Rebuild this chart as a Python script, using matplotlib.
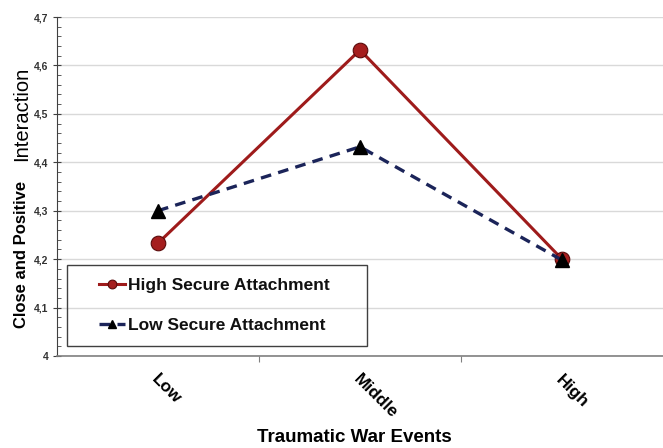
import matplotlib
matplotlib.use("Agg")
import matplotlib.pyplot as plt
from matplotlib.ticker import MultipleLocator, FuncFormatter
from matplotlib.patches import Rectangle

categories = ["Low", "Middle", "High"]
high_secure = [4.233, 4.632, 4.200]
low_secure = [4.300, 4.432, 4.198]
series_labels = ["High Secure Attachment", "Low Secure Attachment"]

plt.rcParams['font.family'] = ['Liberation Sans', 'DejaVu Sans']

W, H = 663, 448
fig = plt.figure(figsize=(W/100, H/100), dpi=100)
ax = fig.add_axes([57/W, (H-356)/H, 606/W, 339/H])

x = list(range(len(categories)))
ax.plot(x, high_secure, color='#9E1B1B', lw=2.2, marker='o', markersize=10.5,
        markerfacecolor='#A51E1E', markeredgecolor='#5A0A0A', markeredgewidth=0.8,
        label=series_labels[0], zorder=3)
ax.plot(x, low_secure, color='#1B2459', lw=2.4, ls=(0, (3.2, 2.2)), marker='^', markersize=10,
        markerfacecolor='black', markeredgecolor='black',
        label=series_labels[1], zorder=4)

ax.set_xlim(-0.5, 2.5)
ax.set_ylim(4.0, 4.7)
ax.yaxis.set_major_locator(MultipleLocator(0.1))
ax.yaxis.set_minor_locator(MultipleLocator(0.02))

def fmt(v, pos):
    s = f"{v:.1f}".replace('.', ',')
    if s.endswith(',0'):
        s = s[:-2]
    return s
ax.yaxis.set_major_formatter(FuncFormatter(fmt))
ax.grid(axis='y', which='major', color='#D9D9D9', lw=1)
ax.set_axisbelow(True)

for s in ['top', 'right']:
    ax.spines[s].set_visible(False)
ax.spines['left'].set_color('#404040')
ax.spines['bottom'].set_color('#808080')
ax.spines['bottom'].set_linewidth(1.2)

ax.tick_params(axis='y', which='major', direction='inout', length=6, color='#404040',
               labelsize=7.5, pad=3)
ax.tick_params(axis='y', which='minor', direction='in', length=3, color='#404040')
for lab in ax.get_yticklabels():
    lab.set_fontweight('bold')
    lab.set_color('#333333')

ax.set_xticks([0.5, 1.5])
ax.set_xticklabels([])
ax.tick_params(axis='x', which='major', direction='out', length=4, color='#808080')
for xi, c in zip(x, categories):
    ax.annotate(c, xy=(xi, 0), xycoords=('data', 'axes fraction'),
                xytext=(-6.5, -11.5), textcoords='offset points',
                rotation=-45, ha='left', va='top', fontsize=12.5, fontweight='bold')

fig.text(354/W, 1 - 437/H, "Traumatic War Events", ha='center', va='center',
         fontsize=13.5, fontweight='bold')
fig.text(22/W, 1 - 328/H, "Close and Positive", rotation=90, ha='center', va='bottom',
         fontsize=12, fontweight='bold')
fig.text(22/W, 1 - 67/H, "Interaction", rotation=90, ha='center', va='top',
         fontsize=14.5)

# legend frame (box drawn separately so the entries can be inset)
box = Rectangle((67/W, 1 - 346/H), 300/W, 81/H, transform=fig.transFigure,
                facecolor='none', edgecolor='#404040', lw=1.0, zorder=5)
fig.patches.append(box)
leg = ax.legend(loc='upper left', bbox_to_anchor=((94-57)/606, (356-273)/339),
                frameon=False, fontsize=12.5, handlelength=1.5, markerscale=0.6,
                labelspacing=1.4, borderpad=0.3, borderaxespad=0, handletextpad=0.15)
for t in leg.get_texts():
    t.set_fontweight('bold')
    t.set_color('#111111')

fig.savefig("out.png", dpi=100)
